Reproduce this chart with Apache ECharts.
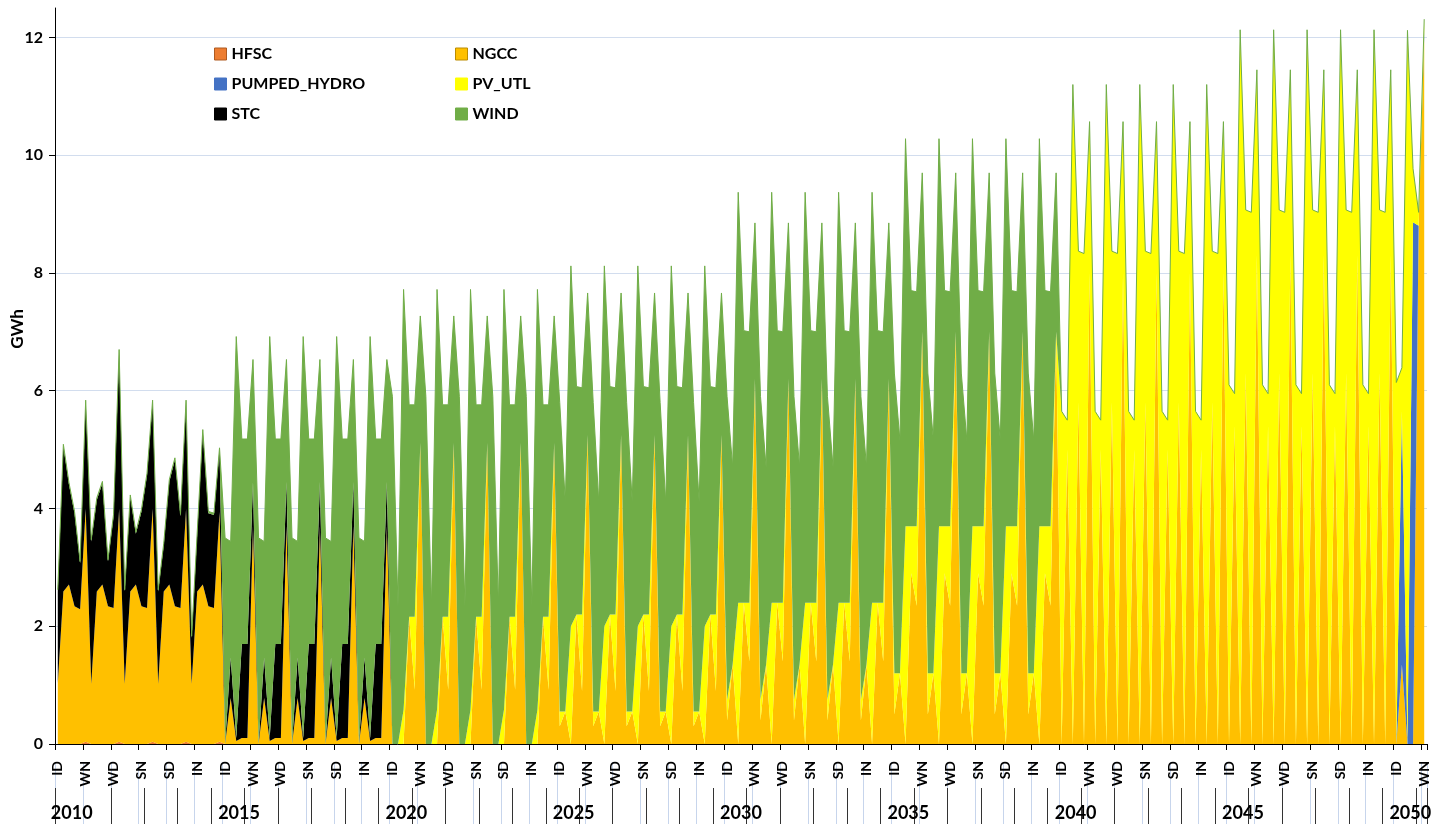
<!DOCTYPE html>
<html>
<head>
<meta charset="utf-8">
<script src="https://cdn.jsdelivr.net/npm/echarts@6/dist/echarts.min.js"></script>
<style>
  html, body { margin: 0; padding: 0; background: #ffffff; }
  #chart { width: 1452px; height: 824px; }
</style>
</head>
<body>
<div id="chart"></div>
<script>
// Time slices of every model year (intermediate / summer / winter, day / night)
const slices = ['ID', 'IN', 'SD', 'SN', 'WD', 'WN'];
const firstYear = 2010;
const lastYear = 2050;

// Start year of each generation profile: 2010-2014 are single years,
// from 2015 on a profile holds for a five-year period.
const profileYears = [2010, 2011, 2012, 2013, 2014, 2015, 2020, 2025, 2030, 2035, 2040, 2045, 2050];

// Generation by technology, GWh per time slice (rows follow profileYears, columns follow slices)
const HFSC = [
  [0, 0, 0, 0, 0, 0.04],
  [0, 0, 0, 0, 0, 0.04],
  [0, 0, 0, 0, 0, 0.04],
  [0, 0, 0, 0, 0, 0.04],
  [0, 0, 0, 0, 0, 0.04],
  [0, 0, 0, 0, 0, 0],
  [0, 0, 0, 0, 0, 0],
  [0, 0, 0, 0, 0, 0],
  [0, 0, 0, 0, 0, 0],
  [0, 0, 0, 0, 0, 0],
  [0, 0, 0, 0, 0, 0],
  [0, 0, 0, 0, 0, 0],
  [0, 0, 0, 0, 0, 0]
];
const NGCC = [
  [1.03, 2.59, 2.71, 2.34, 2.29, 3.95],
  [1.02, 2.59, 2.71, 2.34, 2.31, 3.95],
  [1.02, 2.59, 2.71, 2.34, 2.31, 3.95],
  [1.02, 2.59, 2.71, 2.34, 2.31, 3.95],
  [1.02, 2.59, 2.71, 2.34, 2.31, 3.90],
  [0, 0.78, 0.05, 0.10, 0.10, 3.70],
  [0, 0, 0, 2.16, 0.92, 5.11],
  [0.30, 0.55, 0, 2.20, 0.90, 5.25],
  [0.40, 1.35, 0, 2.40, 1.40, 6.20],
  [0.50, 1.20, 0, 2.90, 2.35, 7.00],
  [0, 5.00, 0, 5.80, 0, 8.00],
  [0, 5.40, 0, 6.30, 0, 8.30],
  [0, 1.35, 0, 0, 8.80, 12.00]
];
const PUMPED_HYDRO = [
  [0, 0, 0, 0, 0, 0],
  [0, 0, 0, 0, 0, 0],
  [0, 0, 0, 0, 0, 0],
  [0, 0, 0, 0, 0, 0],
  [0, 0, 0, 0, 0, 0],
  [0, 0, 0, 0, 0, 0],
  [0, 0, 0, 0, 0, 0],
  [0, 0, 0, 0, 0, 0],
  [0, 0, 0, 0, 0, 0],
  [0, 0, 0, 0, 0, 0],
  [0, 0, 0, 0, 0, 0],
  [0, 0, 0, 0, 0, 0],
  [0, 4.30, 0, 8.86, 0, 0.10]
];
const PV_UTL = [
  [0, 0, 0, 0, 0, 0],
  [0, 0, 0, 0, 0, 0],
  [0, 0, 0, 0, 0, 0],
  [0, 0, 0, 0, 0, 0],
  [0, 0, 0, 0, 0, 0],
  [0, 0, 0, 0, 0, 0],
  [0, 0, 0.58, 0, 1.24, 0],
  [0.25, 0, 2.00, 0, 1.30, 0],
  [0.35, 0, 2.40, 0, 1.00, 0],
  [0.70, 0, 3.70, 0.80, 1.35, 0],
  [5.65, 0.50, 11.20, 2.57, 8.33, 2.57],
  [6.10, 0.55, 12.13, 2.77, 9.03, 3.15],
  [6.14, 0.74, 12.12, 0.91, 0.23, 0.21]
];
const STC = [
  [1.56, 2.47, 1.70, 1.58, 0.78, 1.82],
  [2.42, 1.56, 1.72, 0.76, 1.56, 2.68],
  [1.57, 1.61, 0.86, 1.61, 2.26, 1.82],
  [1.57, 0.79, 1.75, 2.49, 1.56, 1.82],
  [0.78, 0.98, 2.60, 1.58, 1.58, 1.06],
  [0, 0.69, 0.05, 1.60, 1.60, 0.75],
  [0, 0, 0, 0, 0, 0],
  [0, 0, 0, 0, 0, 0],
  [0, 0, 0, 0, 0, 0],
  [0, 0, 0, 0, 0, 0],
  [0, 0, 0, 0, 0, 0],
  [0, 0, 0, 0, 0, 0],
  [0, 0, 0, 0, 0, 0]
];
const WIND = [
  [0.03, 0.03, 0.03, 0.03, 0.03, 0.03],
  [0.03, 0.03, 0.03, 0.03, 0.03, 0.03],
  [0.03, 0.03, 0.03, 0.03, 0.03, 0.03],
  [0.03, 0.03, 0.03, 0.03, 0.03, 0.03],
  [0.03, 0.03, 0.03, 0.03, 0.03, 0.03],
  [3.50, 1.97, 6.82, 3.48, 3.48, 2.08],
  [5.90, 2.33, 7.14, 3.60, 3.60, 2.16],
  [5.25, 3.55, 6.12, 3.87, 3.85, 2.41],
  [5.15, 3.35, 6.97, 4.62, 4.60, 2.65],
  [5.10, 3.95, 6.58, 4.00, 3.98, 2.70],
  [0, 0, 0, 0, 0, 0],
  [0, 0, 0, 0, 0, 0],
  [0, 0, 0, 0, 0, 0]
];

const yTicks = { min: 0, max: 12.5, step: 2 };

// Category lists: one entry per (year, slice); year list for the outer label row
const categories = [];
const yearLabels = [];
const profileOfYear = [];
for (let y = firstYear; y <= lastYear; y++) {
  let p = 0;
  while (p + 1 < profileYears.length && profileYears[p + 1] <= y) p++;
  profileOfYear.push(p);
  yearLabels.push(String(y));
  slices.forEach(s => categories.push(s));
}
function seriesData(rows) {
  const out = [];
  profileOfYear.forEach(p => { out.push(...rows[p]); });
  return out;
}

const techs = [
  { name: 'HFSC', rows: HFSC, color: '#ED7D31', border: '#AE5A21' },
  { name: 'NGCC', rows: NGCC, color: '#FFC000', border: '#BC8C00' },
  { name: 'PUMPED_HYDRO', rows: PUMPED_HYDRO, color: '#4472C4', border: '#4472C4' },
  { name: 'PV_UTL', rows: PV_UTL, color: '#FFFF00', border: '#FFFF00' },
  { name: 'STC', rows: STC, color: '#000000', border: '#000000' },
  { name: 'WIND', rows: WIND, color: '#70AD47', border: '#70AD47' }
];

const font = 'Lato';
const chart = echarts.init(document.getElementById('chart'), null, { renderer: 'canvas' });

const legendItem = t => ({
  name: t.name,
  itemStyle: { color: t.color, borderColor: t.border, borderWidth: 1 }
});
const legendBase = {
  orient: 'vertical',
  top: 46,
  padding: 0,
  icon: 'rect',
  itemWidth: 12,
  itemHeight: 12,
  itemGap: 14,
  textStyle: { fontFamily: font, fontWeight: 'bold', fontSize: 16, color: '#000' },
  selectedMode: false
};

chart.setOption({
  animation: false,
  backgroundColor: '#ffffff',
  grid: { left: 55, right: 25, top: 8, bottom: 80 },
  legend: [
    Object.assign({}, legendBase, { left: 214, data: [techs[0], techs[2], techs[4]].map(legendItem) }),
    Object.assign({}, legendBase, { left: 455, data: [techs[1], techs[3], techs[5]].map(legendItem) })
  ],
  graphic: [{
    type: 'text',
    x: 18,
    y: 329,
    rotation: Math.PI / 2,
    style: { text: 'GWh', fill: '#000', font: 'bold 17px Lato', align: 'center', verticalAlign: 'middle' }
  }],
  xAxis: [
    {
      type: 'category',
      data: categories,
      boundaryGap: true,
      axisLine: { show: true, lineStyle: { color: '#000', width: 1 } },
      axisTick: { show: true, interval: 4, length: 6, lineStyle: { color: '#000' } },
      axisLabel: { interval: 4, rotate: 90, margin: 17, fontFamily: font, fontWeight: 'bold', fontSize: 14, color: '#000' },
      splitLine: { show: false }
    },
    {
      type: 'category',
      data: yearLabels,
      boundaryGap: true,
      position: 'bottom',
      offset: 44,
      axisLine: { show: false },
      axisTick: { show: false },
      axisLabel: { interval: 4, margin: 16, fontFamily: font, fontWeight: 'bold', fontSize: 18, color: '#000' }
    },
    {
      // pale guide lines under the slice labels
      type: 'category',
      data: categories,
      boundaryGap: true,
      position: 'bottom',
      offset: 18,
      axisLine: { show: false },
      axisTick: { show: true, interval: 4, length: 70, lineStyle: { color: '#C7D5EC', width: 1 } },
      axisLabel: { show: false }
    },
    {
      // separators in the year row
      type: 'category',
      data: categories,
      boundaryGap: true,
      position: 'bottom',
      offset: 44,
      axisLine: { show: false },
      axisTick: { show: true, interval: (i) => i === 0 || (i > 6 && i % 6 === 4), length: 40, lineStyle: { color: '#333', width: 1 } },
      axisLabel: { show: false }
    }
  ],
  yAxis: {
    type: 'value',
    min: yTicks.min,
    max: yTicks.max,
    interval: yTicks.step,
    axisLine: { show: true, lineStyle: { color: '#000', width: 1 } },
    axisTick: { show: true, length: 6, lineStyle: { color: '#000' } },
    axisLabel: {
      margin: 12, fontFamily: font, fontWeight: 'bold', fontSize: 16, color: '#000',
      showMaxLabel: false,
      formatter: v => (v % 2 === 0 ? String(v) : '')
    },
    splitLine: { show: true, showMaxLine: false, lineStyle: { color: '#D2DDEE', width: 1 } }
  },
  series: techs.map(t => ({
    name: t.name,
    type: 'line',
    stack: 'gen',
    xAxisIndex: 0,
    symbol: 'none',
    data: seriesData(t.rows),
    areaStyle: { color: t.color, opacity: 1 },
    itemStyle: { color: t.color },
    lineStyle: t.name === 'WIND' ? { color: t.color, width: 1 } : { width: 0, opacity: 0 }
  }))
});
</script>
</body>
</html>
